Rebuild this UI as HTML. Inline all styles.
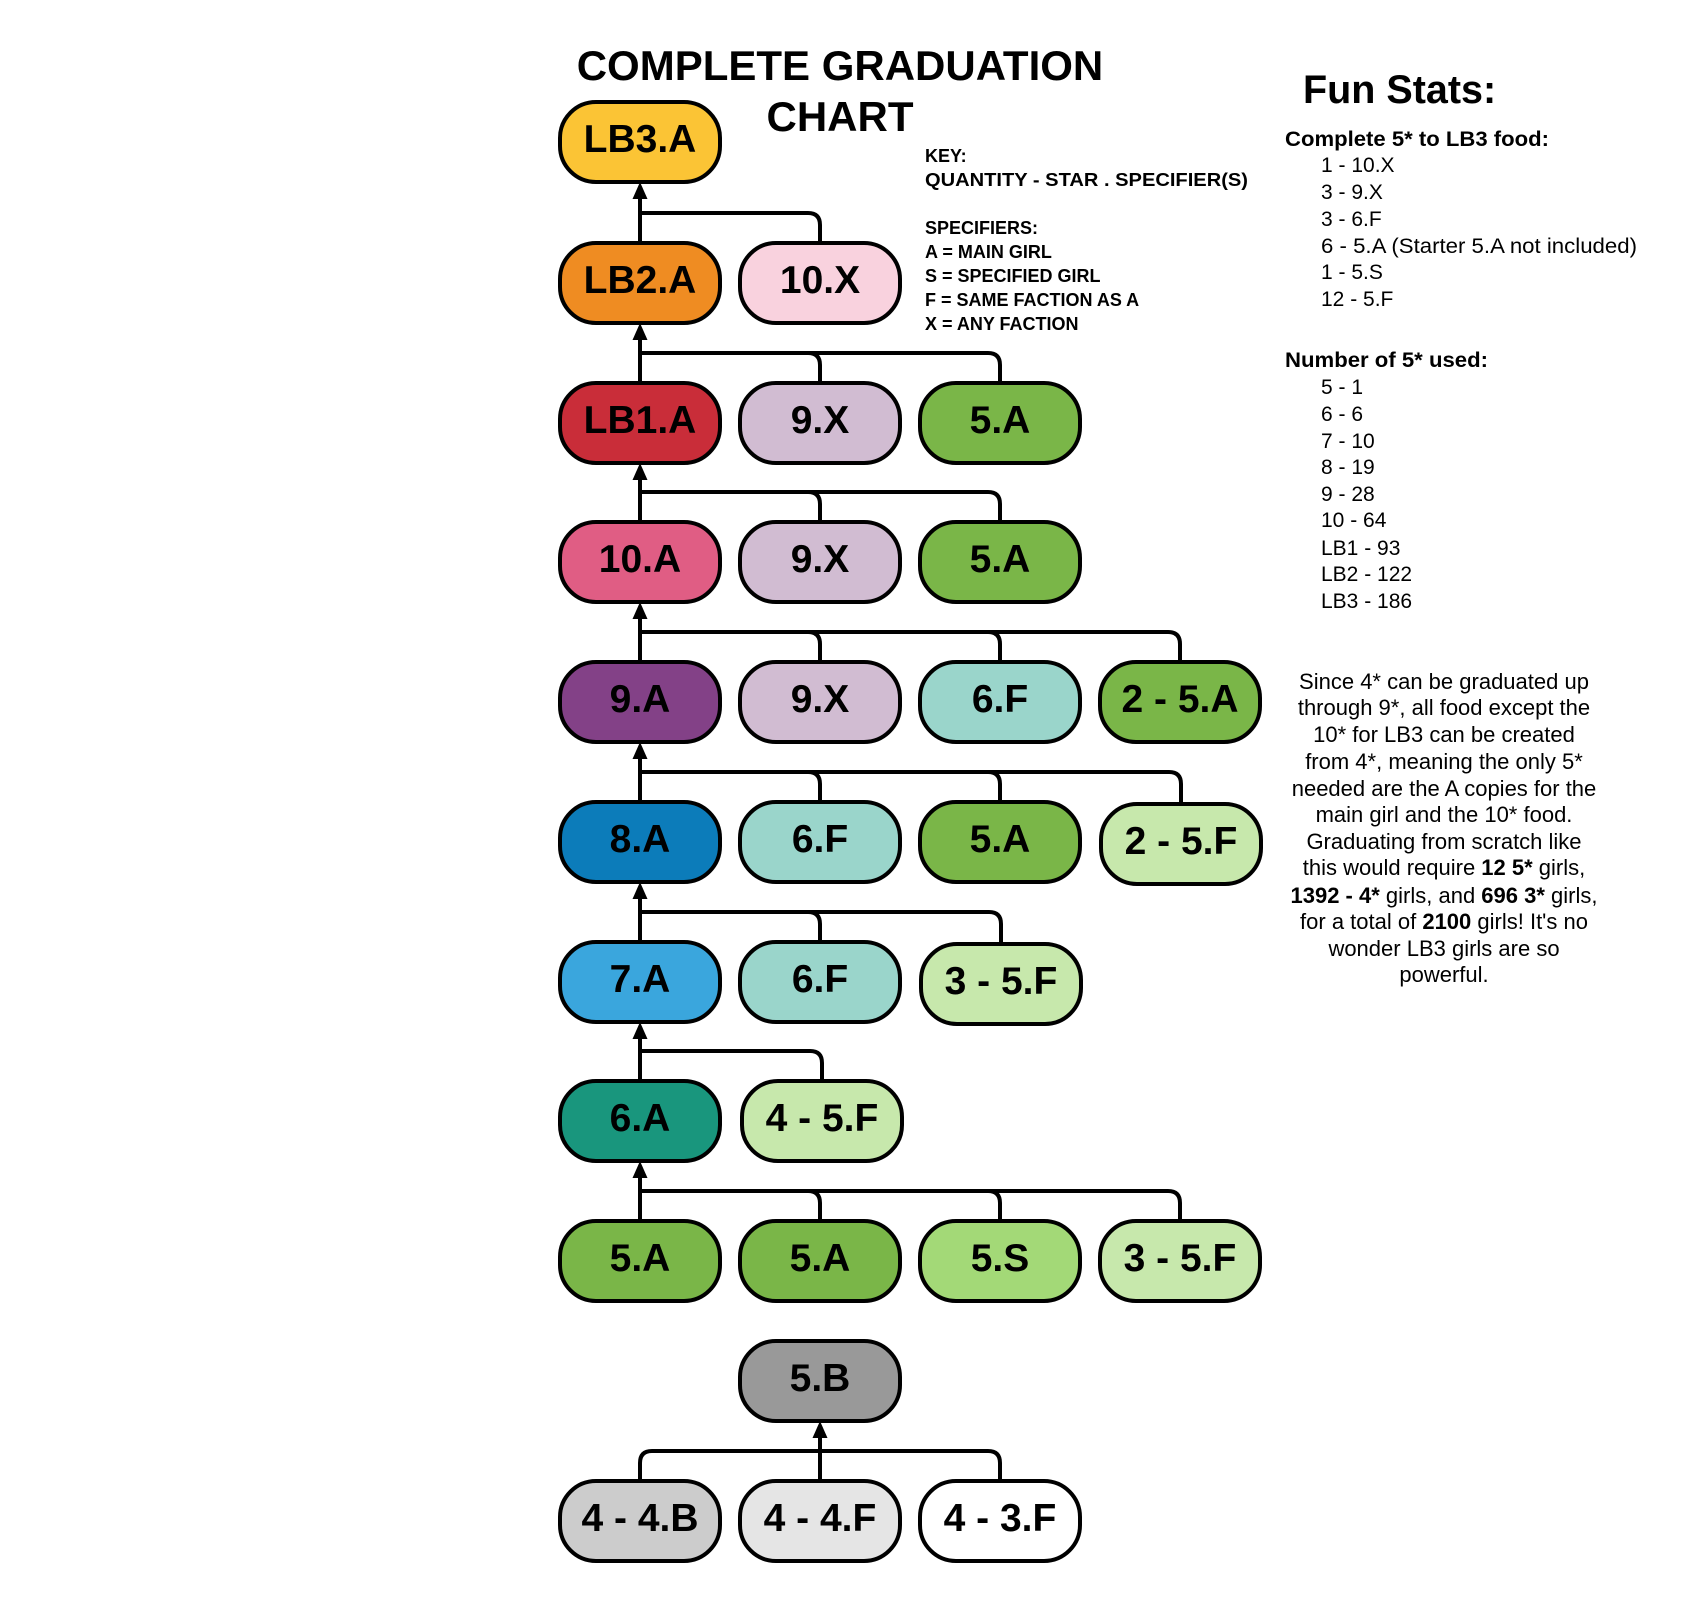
<!DOCTYPE html>
<html><head><meta charset="utf-8"><style>
html,body{margin:0;padding:0;background:#fff}
svg{display:block}
.b text{font-family:"Liberation Sans",sans-serif;font-weight:bold;font-size:39px;text-anchor:middle;fill:#000}
.t{font-family:"Liberation Sans",sans-serif;fill:#000}
</style></head><body>
<svg width="1700" height="1603" viewBox="0 0 1700 1603" xmlns="http://www.w3.org/2000/svg">
<rect width="1700" height="1603" fill="#fff"/>
<g class="t" font-weight="bold" font-size="42" text-anchor="middle">
<text x="840" y="80">COMPLETE GRADUATION</text>
<text x="840" y="131">CHART</text>
</g>
<g class="t" font-weight="bold" font-size="18">
<text x="925" y="162">KEY:</text>
<text x="925" y="186" textLength="323" lengthAdjust="spacingAndGlyphs">QUANTITY - STAR . SPECIFIER(S)</text>
<text x="925" y="234">SPECIFIERS:</text>
<text x="925" y="258">A = MAIN GIRL</text>
<text x="925" y="282">S = SPECIFIED GIRL</text>
<text x="925" y="306">F = SAME FACTION AS A</text>
<text x="925" y="330">X = ANY FACTION</text>
</g>
<text class="t" x="1303" y="103" font-weight="bold" font-size="39.5">Fun Stats:</text>
<g class="t" font-size="21">
<text x="1285" y="146" font-weight="bold" textLength="264" lengthAdjust="spacingAndGlyphs">Complete 5* to LB3 food:</text>
<text x="1321" y="172">1 - 10.X</text>
<text x="1321" y="199">3 - 9.X</text>
<text x="1321" y="226">3 - 6.F</text>
<text x="1321" y="253" textLength="316" lengthAdjust="spacingAndGlyphs">6 - 5.A (Starter 5.A not included)</text>
<text x="1321" y="279">1 - 5.S</text>
<text x="1321" y="306">12 - 5.F</text>
<text x="1285" y="367" font-weight="bold" textLength="203" lengthAdjust="spacingAndGlyphs">Number of 5* used:</text>
<text x="1321" y="394">5 - 1</text>
<text x="1321" y="421">6 - 6</text>
<text x="1321" y="448">7 - 10</text>
<text x="1321" y="474">8 - 19</text>
<text x="1321" y="501">9 - 28</text>
<text x="1321" y="527">10 - 64</text>
<text x="1321" y="555">LB1 - 93</text>
<text x="1321" y="581">LB2 - 122</text>
<text x="1321" y="608">LB3 - 186</text>
</g>
<g class="t" font-size="22" text-anchor="middle">
<text x="1444" y="689">Since 4* can be graduated up</text>
<text x="1444" y="715">through 9*, all food except the</text>
<text x="1444" y="742">10* for LB3 can be created</text>
<text x="1444" y="769">from 4*, meaning the only 5*</text>
<text x="1444" y="796">needed are the A copies for the</text>
<text x="1444" y="822">main girl and the 10* food.</text>
<text x="1444" y="849">Graduating from scratch like</text>
<text x="1444" y="875">this would require <tspan font-weight="bold">12 5*</tspan> girls,</text>
<text x="1444" y="903"><tspan font-weight="bold">1392 - 4*</tspan> girls, and <tspan font-weight="bold">696 3*</tspan> girls,</text>
<text x="1444" y="929">for a total of <tspan font-weight="bold">2100</tspan> girls!  It's no</text>
<text x="1444" y="956">wonder LB3 girls are so</text>
<text x="1444" y="982">powerful.</text>
</g>
<g fill="none" stroke="#000" stroke-width="4">
<path d="M640 243V197M640 213H808Q820 213 820 225V243"/>
<path d="M640 383V338M640 353H808Q820 353 820 365V383M640 353H988Q1000 353 1000 365V383"/>
<path d="M640 522V478M640 492H808Q820 492 820 504V522M640 492H988Q1000 492 1000 504V522"/>
<path d="M640 662V617M640 632H808Q820 632 820 644V662M640 632H988Q1000 632 1000 644V662M640 632H1168Q1180 632 1180 644V662"/>
<path d="M640 802V757M640 772H808Q820 772 820 784V802M640 772H988Q1000 772 1000 784V802M640 772H1169Q1181 772 1181 784V804"/>
<path d="M640 942V897M640 912H808Q820 912 820 924V942M640 912H989Q1001 912 1001 924V944"/>
<path d="M640 1081V1037M640 1051H810Q822 1051 822 1063V1081"/>
<path d="M640 1221V1176M640 1191H808Q820 1191 820 1203V1221M640 1191H988Q1000 1191 1000 1203V1221M640 1191H1168Q1180 1191 1180 1203V1221"/>
<path d="M640 1481V1463Q640 1451 652 1451H988Q1000 1451 1000 1463V1481M820 1481V1436"/>
</g>
<g fill="#000">
<polygon points="640,182 632.5,199 647.5,199"/>
<polygon points="640,323 632.5,340 647.5,340"/>
<polygon points="640,463 632.5,480 647.5,480"/>
<polygon points="640,602 632.5,619 647.5,619"/>
<polygon points="640,742 632.5,759 647.5,759"/>
<polygon points="640,882 632.5,899 647.5,899"/>
<polygon points="640,1022 632.5,1039 647.5,1039"/>
<polygon points="640,1161 632.5,1178 647.5,1178"/>
<polygon points="820,1421 812.5,1438 827.5,1438"/>
</g>
<g class="b" stroke-width="4">
<rect x="560" y="102" width="160" height="80" rx="36" fill="#FBC435" stroke="#000"/><text x="640" y="152">LB3.A</text>
<rect x="560" y="243" width="160" height="80" rx="36" fill="#EF8C22" stroke="#000"/><text x="640" y="293">LB2.A</text>
<rect x="740" y="243" width="160" height="80" rx="36" fill="#F9D2DE" stroke="#000"/><text x="820" y="293">10.X</text>
<rect x="560" y="383" width="160" height="80" rx="36" fill="#C92D39" stroke="#000"/><text x="640" y="433">LB1.A</text>
<rect x="740" y="383" width="160" height="80" rx="36" fill="#D1BCD2" stroke="#000"/><text x="820" y="433">9.X</text>
<rect x="920" y="383" width="160" height="80" rx="36" fill="#7AB648" stroke="#000"/><text x="1000" y="433">5.A</text>
<rect x="560" y="522" width="160" height="80" rx="36" fill="#E05D84" stroke="#000"/><text x="640" y="572">10.A</text>
<rect x="740" y="522" width="160" height="80" rx="36" fill="#D1BCD2" stroke="#000"/><text x="820" y="572">9.X</text>
<rect x="920" y="522" width="160" height="80" rx="36" fill="#7AB648" stroke="#000"/><text x="1000" y="572">5.A</text>
<rect x="560" y="662" width="160" height="80" rx="36" fill="#834187" stroke="#000"/><text x="640" y="712">9.A</text>
<rect x="740" y="662" width="160" height="80" rx="36" fill="#D1BCD2" stroke="#000"/><text x="820" y="712">9.X</text>
<rect x="920" y="662" width="160" height="80" rx="36" fill="#9AD5CB" stroke="#000"/><text x="1000" y="712">6.F</text>
<rect x="1100" y="662" width="160" height="80" rx="36" fill="#7AB648" stroke="#000"/><text x="1180" y="712">2 - 5.A</text>
<rect x="560" y="802" width="160" height="80" rx="36" fill="#0C7CBA" stroke="#000"/><text x="640" y="852">8.A</text>
<rect x="740" y="802" width="160" height="80" rx="36" fill="#9AD5CB" stroke="#000"/><text x="820" y="852">6.F</text>
<rect x="920" y="802" width="160" height="80" rx="36" fill="#7AB648" stroke="#000"/><text x="1000" y="852">5.A</text>
<rect x="1101" y="804" width="160" height="80" rx="36" fill="#C7E8AC" stroke="#000"/><text x="1181" y="854">2 - 5.F</text>
<rect x="560" y="942" width="160" height="80" rx="36" fill="#3AA6DD" stroke="#000"/><text x="640" y="992">7.A</text>
<rect x="740" y="942" width="160" height="80" rx="36" fill="#9AD5CB" stroke="#000"/><text x="820" y="992">6.F</text>
<rect x="921" y="944" width="160" height="80" rx="36" fill="#C7E8AC" stroke="#000"/><text x="1001" y="994">3 - 5.F</text>
<rect x="560" y="1081" width="160" height="80" rx="36" fill="#19967D" stroke="#000"/><text x="640" y="1131">6.A</text>
<rect x="742" y="1081" width="160" height="80" rx="36" fill="#C7E8AC" stroke="#000"/><text x="822" y="1131">4 - 5.F</text>
<rect x="560" y="1221" width="160" height="80" rx="36" fill="#7AB648" stroke="#000"/><text x="640" y="1271">5.A</text>
<rect x="740" y="1221" width="160" height="80" rx="36" fill="#7AB648" stroke="#000"/><text x="820" y="1271">5.A</text>
<rect x="920" y="1221" width="160" height="80" rx="36" fill="#A3D977" stroke="#000"/><text x="1000" y="1271">5.S</text>
<rect x="1100" y="1221" width="160" height="80" rx="36" fill="#C7E8AC" stroke="#000"/><text x="1180" y="1271">3 - 5.F</text>
<rect x="740" y="1341" width="160" height="80" rx="36" fill="#999999" stroke="#000"/><text x="820" y="1391">5.B</text>
<rect x="560" y="1481" width="160" height="80" rx="36" fill="#CCCCCC" stroke="#000"/><text x="640" y="1531">4 - 4.B</text>
<rect x="740" y="1481" width="160" height="80" rx="36" fill="#E5E5E5" stroke="#000"/><text x="820" y="1531">4 - 4.F</text>
<rect x="920" y="1481" width="160" height="80" rx="36" fill="#FFFFFF" stroke="#000"/><text x="1000" y="1531">4 - 3.F</text>
</g>
</svg>
</body></html>
